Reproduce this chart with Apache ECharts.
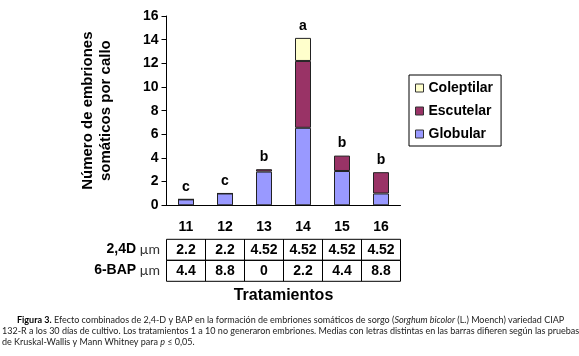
<!DOCTYPE html>
<html>
<head>
<meta charset="utf-8">
<script src="https://cdn.jsdelivr.net/npm/echarts@6/dist/echarts.min.js"></script>
<style>
  html, body { margin: 0; padding: 0; background: #fff; }
  #chart { width: 579px; height: 356px; }
</style>
</head>
<body>
<div id="chart"></div>
<script>
const treatments = ["11", "12", "13", "14", "15", "16"];
const globular = [0.5, 1.0, 2.85, 6.55, 2.9, 1.0];
const escutelar = [0, 0, 0.2, 5.65, 1.3, 1.8];
const coleptilar = [0, 0, 0, 1.95, 0, 0];
const letters = ["c", "c", "b", "a", "b", "b"];
const dose24D = ["2.2", "2.2", "4.52", "4.52", "4.52", "4.52"];
const doseBAP = ["4.4", "8.8", "0", "2.2", "4.4", "8.8"];
const yTicks = { min: 0, max: 16, interval: 2 };

const captionLines = [
  "{b|Figura 3.} Efecto combinados de 2,4-D y BAP en la formación de embriones somáticos de sorgo ({i|Sorghum bicolor} (L.) Moench) variedad CIAP",
  "132-R a los 30 días de cultivo. Los tratamientos 1 a 10 no generaron embriones. Medias con letras distintas en las barras difieren según las pruebas",
  "de Kruskal-Wallis y Mann Whitney para {i|p} ≤ 0,05."
];

const FONT = "'Liberation Sans', Arial, sans-serif";
const CAPTION_FONT = "Lato, 'Open Sans', sans-serif";

const chart = echarts.init(document.getElementById("chart"), null, { renderer: "canvas" });

function tableAxis(data, offset, label) {
  return {
    type: "category",
    data,
    position: "bottom",
    offset,
    axisLine: { show: false },
    axisTick: { show: false },
    axisLabel: {
      interval: 0,
      margin: 0,
      width: 39,
      height: 21,
      lineHeight: 21,
      align: "center",
      verticalAlign: "top",
      borderColor: "#000",
      borderWidth: 1,
      color: "#000",
      fontFamily: FONT,
      fontWeight: "bold",
      fontSize: 14
    },
    name: label,
    nameLocation: "start",
    nameGap: 5,
    nameTextStyle: {
      align: "right",
      verticalAlign: "top",
      padding: [2, 0, 0, 0],
      rich: {
        b: { fontFamily: FONT, fontWeight: "bold", fontSize: 14, color: "#000", lineHeight: 16 },
        u: { fontFamily: CAPTION_FONT, fontWeight: "normal", fontSize: 14, color: "#333", lineHeight: 16 }
      }
    }
  };
}

function barSeries(name, data, color) {
  return {
    name,
    type: "bar",
    stack: "total",
    data,
    barWidth: 16,
    itemStyle: { color, borderColor: "#222", borderWidth: 1 }
  };
}

const topSeries = barSeries("Coleptilar", coleptilar, "#ffffcc");
topSeries.data = coleptilar.map((v) => ({
  value: v,
  itemStyle: { borderWidth: v > 0 ? 1 : 0 }
}));
topSeries.label = {
  show: true,
  position: "top",
  distance: 5,
  formatter: (p) => letters[p.dataIndex],
  color: "#000",
  fontFamily: FONT,
  fontWeight: "bold",
  fontSize: 14
};

chart.setOption({
  backgroundColor: "#fff",
  animation: false,
  grid: { left: 166.5, right: 178.5, top: 16, bottom: 150.7 },
  legend: {
    orient: "vertical",
    left: 409,
    top: 75,
    width: 90,
    data: ["Coleptilar", "Escutelar", "Globular"],
    borderColor: "#000",
    borderWidth: 1,
    padding: [6, 8, 5, 6],
    itemWidth: 8,
    itemHeight: 8,
    itemGap: 9,
    icon: "rect",
    itemStyle: { borderColor: "#333", borderWidth: 1 },
    textStyle: { fontFamily: FONT, fontWeight: "bold", fontSize: 14, color: "#000" }
  },
  xAxis: [
    {
      type: "category",
      data: treatments,
      axisLine: { lineStyle: { color: "#000", width: 1 } },
      axisTick: { length: 5, lineStyle: { color: "#000" } },
      axisLabel: { margin: 15, color: "#000", fontFamily: FONT, fontWeight: "bold", fontSize: 14 },
      name: "Tratamientos",
      nameLocation: "middle",
      nameGap: 82,
      nameTextStyle: { color: "#000", fontFamily: FONT, fontWeight: "bold", fontSize: 16 }
    },
    tableAxis(dose24D, 34, "{b|2,4D} {u|µm}"),
    tableAxis(doseBAP, 55, "{b|6-BAP} {u|µm}")
  ],
  yAxis: {
    type: "value",
    min: yTicks.min,
    max: yTicks.max,
    interval: yTicks.interval,
    axisLine: { show: true, lineStyle: { color: "#000", width: 1 } },
    axisTick: { show: true, length: 5, lineStyle: { color: "#000" } },
    splitLine: { show: false },
    axisLabel: { margin: 8, color: "#000", fontFamily: FONT, fontWeight: "bold", fontSize: 14 },
    name: "Número de embriones\nsomáticos por callo",
    nameLocation: "middle",
    nameGap: 52,
    nameTextStyle: { color: "#000", fontFamily: FONT, fontWeight: "bold", fontSize: 15, lineHeight: 18 }
  },
  series: [
    barSeries("Globular", globular, "#9999ff"),
    barSeries("Escutelar", escutelar, "#993366"),
    topSeries
  ],
  graphic: captionLines.map((line, i) => ({
    type: "text",
    left: i === 0 ? 17 : 2,
    top: 316 + i * 11,
    silent: true,
    style: {
      text: line,
      fontFamily: CAPTION_FONT,
      fontSize: 9,
      fill: "#222",
      rich: {
        b: { fontFamily: CAPTION_FONT, fontWeight: "bold", fontSize: 9, fill: "#000" },
        i: { fontFamily: CAPTION_FONT, fontStyle: "italic", fontSize: 9, fill: "#222" }
      }
    }
  }))
});
</script>
</body>
</html>
